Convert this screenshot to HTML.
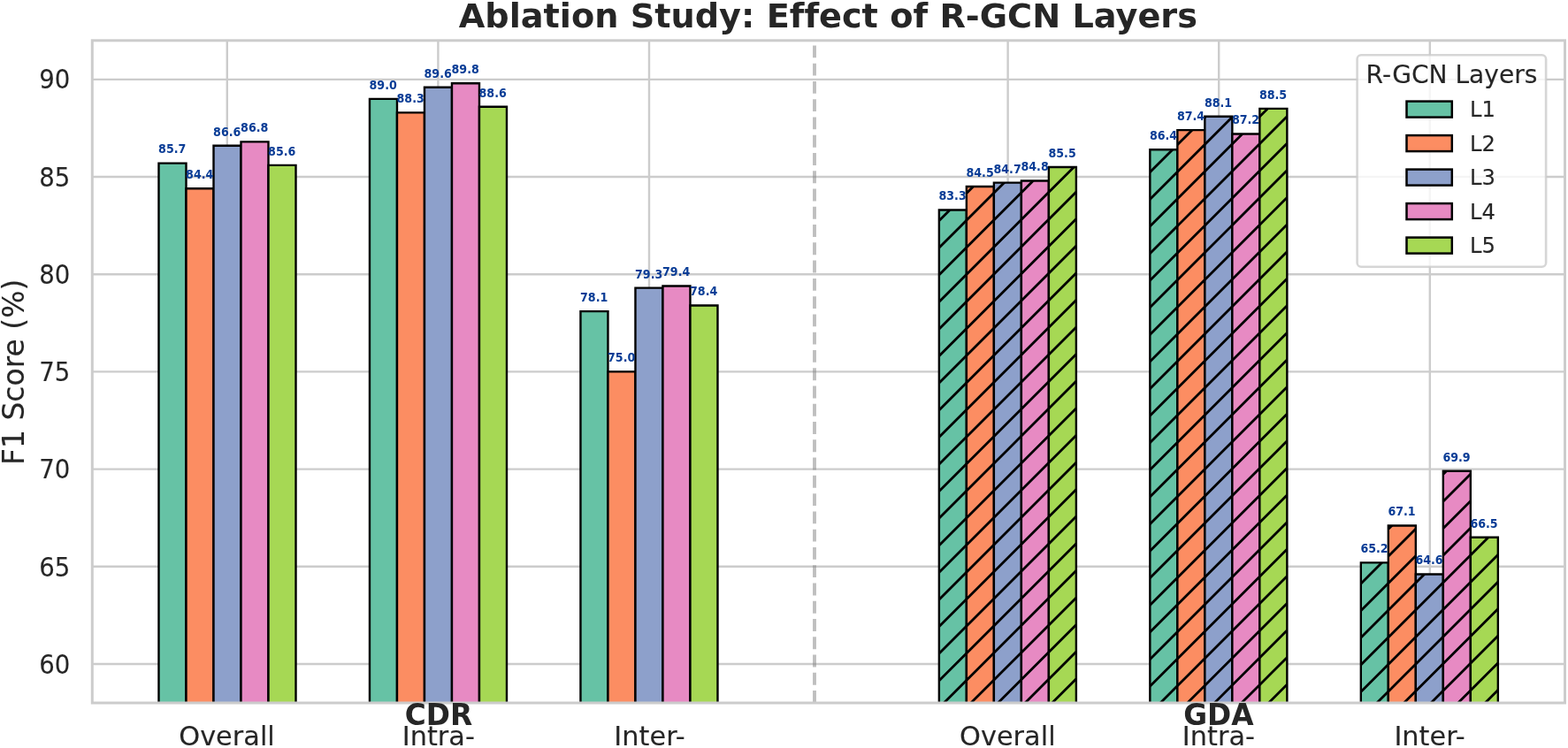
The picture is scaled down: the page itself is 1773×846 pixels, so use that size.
<!DOCTYPE html>
<html lang="en"><head><meta charset="utf-8"><title>Ablation Study: Effect of R-GCN Layers</title>
<style>html,body{margin:0;padding:0;background:#fff;overflow:hidden}svg{display:block}text{font-family:"DejaVu Sans","Liberation Sans",sans-serif;fill:#262626;font-variant-ligatures:none;font-feature-settings:"liga" 0,"clig" 0}</style></head><body>
<svg width="1773" height="846" viewBox="0 0 1773 846">
<rect width="1773" height="846" fill="#ffffff"/>
<defs><clipPath id="ax"><rect x="104.3" y="45.8" width="1665.2" height="749.2"/></clipPath></defs>
<g stroke="#cccccc" stroke-width="2.4" fill="none">
<line x1="256.8" y1="45.8" x2="256.8" y2="795"/>
<line x1="495.4" y1="45.8" x2="495.4" y2="795"/>
<line x1="734" y1="45.8" x2="734" y2="795"/>
<line x1="1139.62" y1="45.8" x2="1139.62" y2="795"/>
<line x1="1378.22" y1="45.8" x2="1378.22" y2="795"/>
<line x1="1616.82" y1="45.8" x2="1616.82" y2="795"/>
<line x1="104.3" y1="750.93" x2="1769.5" y2="750.93"/>
<line x1="104.3" y1="640.75" x2="1769.5" y2="640.75"/>
<line x1="104.3" y1="530.58" x2="1769.5" y2="530.58"/>
<line x1="104.3" y1="420.4" x2="1769.5" y2="420.4"/>
<line x1="104.3" y1="310.22" x2="1769.5" y2="310.22"/>
<line x1="104.3" y1="200.05" x2="1769.5" y2="200.05"/>
<line x1="104.3" y1="89.87" x2="1769.5" y2="89.87"/>
</g>
<g clip-path="url(#ax)">
<rect x="179.49" y="184.62" width="31" height="614.38" fill="#66c2a5"/>
<path d="M179.49 799V184.62H210.5V799" stroke="#000" stroke-width="2.4" stroke-linejoin="miter" fill="none"/>
<rect x="417.97" y="111.91" width="31" height="687.09" fill="#66c2a5"/>
<path d="M417.97 799V111.91H448.98V799" stroke="#000" stroke-width="2.4" stroke-linejoin="miter" fill="none"/>
<rect x="656.45" y="352.09" width="31" height="446.91" fill="#66c2a5"/>
<path d="M656.45 799V352.09H687.46V799" stroke="#000" stroke-width="2.4" stroke-linejoin="miter" fill="none"/>
<rect x="1061.87" y="237.51" width="31" height="561.49" fill="#66c2a5"/>
<clipPath id="c1"><rect x="1061.87" y="237.51" width="31" height="557.49"/></clipPath>
<path d="M1057.87 192.43L1096.87 153.43M1057.87 223.03L1096.87 184.03M1057.87 253.63L1096.87 214.63M1057.87 284.23L1096.87 245.23M1057.87 314.83L1096.87 275.83M1057.87 345.43L1096.87 306.43M1057.87 376.03L1096.87 337.03M1057.87 406.63L1096.87 367.63M1057.87 437.23L1096.87 398.23M1057.87 467.83L1096.87 428.83M1057.87 498.43L1096.87 459.43M1057.87 529.03L1096.87 490.03M1057.87 559.63L1096.87 520.63M1057.87 590.23L1096.87 551.23M1057.87 620.83L1096.87 581.83M1057.87 651.43L1096.87 612.43M1057.87 682.03L1096.87 643.03M1057.87 712.63L1096.87 673.63M1057.87 743.23L1096.87 704.23M1057.87 773.83L1096.87 734.83M1057.87 804.43L1096.87 765.43M1057.87 835.03L1096.87 796.03M1057.87 865.63L1096.87 826.63M1057.87 896.23L1096.87 857.23" stroke="#000" stroke-width="2.8" fill="none" clip-path="url(#c1)"/>
<path d="M1061.87 799V237.51H1092.87V799" stroke="#000" stroke-width="2.4" stroke-linejoin="miter" fill="none"/>
<rect x="1300.35" y="169.2" width="31" height="629.8" fill="#66c2a5"/>
<clipPath id="c2"><rect x="1300.35" y="169.2" width="31" height="625.8"/></clipPath>
<path d="M1296.35 137.55L1335.35 98.55M1296.35 168.15L1335.35 129.15M1296.35 198.75L1335.35 159.75M1296.35 229.35L1335.35 190.35M1296.35 259.95L1335.35 220.95M1296.35 290.55L1335.35 251.55M1296.35 321.15L1335.35 282.15M1296.35 351.75L1335.35 312.75M1296.35 382.35L1335.35 343.35M1296.35 412.95L1335.35 373.95M1296.35 443.55L1335.35 404.55M1296.35 474.15L1335.35 435.15M1296.35 504.75L1335.35 465.75M1296.35 535.35L1335.35 496.35M1296.35 565.95L1335.35 526.95M1296.35 596.55L1335.35 557.55M1296.35 627.15L1335.35 588.15M1296.35 657.75L1335.35 618.75M1296.35 688.35L1335.35 649.35M1296.35 718.95L1335.35 679.95M1296.35 749.55L1335.35 710.55M1296.35 780.15L1335.35 741.15M1296.35 810.75L1335.35 771.75M1296.35 841.35L1335.35 802.35M1296.35 871.95L1335.35 832.95" stroke="#000" stroke-width="2.8" fill="none" clip-path="url(#c2)"/>
<path d="M1300.35 799V169.2H1331.35V799" stroke="#000" stroke-width="2.4" stroke-linejoin="miter" fill="none"/>
<rect x="1538.83" y="636.35" width="31" height="162.65" fill="#66c2a5"/>
<clipPath id="c3"><rect x="1538.83" y="636.35" width="31" height="158.65"/></clipPath>
<path d="M1534.83 602.87L1573.83 563.87M1534.83 633.47L1573.83 594.47M1534.83 664.07L1573.83 625.07M1534.83 694.67L1573.83 655.67M1534.83 725.27L1573.83 686.27M1534.83 755.87L1573.83 716.87M1534.83 786.47L1573.83 747.47M1534.83 817.07L1573.83 778.07M1534.83 847.67L1573.83 808.67M1534.83 878.27L1573.83 839.27" stroke="#000" stroke-width="2.8" fill="none" clip-path="url(#c3)"/>
<path d="M1538.83 799V636.35H1569.83V799" stroke="#000" stroke-width="2.4" stroke-linejoin="miter" fill="none"/>
<rect x="210.5" y="213.27" width="31" height="585.73" fill="#fc8d62"/>
<path d="M210.5 799V213.27H241.5V799" stroke="#000" stroke-width="2.4" stroke-linejoin="miter" fill="none"/>
<rect x="448.98" y="127.33" width="31" height="671.67" fill="#fc8d62"/>
<path d="M448.98 799V127.33H479.98V799" stroke="#000" stroke-width="2.4" stroke-linejoin="miter" fill="none"/>
<rect x="687.46" y="420.4" width="31" height="378.6" fill="#fc8d62"/>
<path d="M687.46 799V420.4H718.46V799" stroke="#000" stroke-width="2.4" stroke-linejoin="miter" fill="none"/>
<rect x="1092.87" y="211.06" width="31" height="587.94" fill="#fc8d62"/>
<clipPath id="c4"><rect x="1092.87" y="211.06" width="31" height="583.94"/></clipPath>
<path d="M1088.87 161.43L1127.87 122.43M1088.87 192.03L1127.87 153.03M1088.87 222.63L1127.87 183.63M1088.87 253.23L1127.87 214.23M1088.87 283.83L1127.87 244.83M1088.87 314.43L1127.87 275.43M1088.87 345.03L1127.87 306.03M1088.87 375.63L1127.87 336.63M1088.87 406.23L1127.87 367.23M1088.87 436.83L1127.87 397.83M1088.87 467.43L1127.87 428.43M1088.87 498.03L1127.87 459.03M1088.87 528.63L1127.87 489.63M1088.87 559.23L1127.87 520.23M1088.87 589.83L1127.87 550.83M1088.87 620.43L1127.87 581.43M1088.87 651.03L1127.87 612.03M1088.87 681.63L1127.87 642.63M1088.87 712.23L1127.87 673.23M1088.87 742.83L1127.87 703.83M1088.87 773.43L1127.87 734.43M1088.87 804.03L1127.87 765.03M1088.87 834.63L1127.87 795.63M1088.87 865.23L1127.87 826.23M1088.87 895.83L1127.87 856.83" stroke="#000" stroke-width="2.8" fill="none" clip-path="url(#c4)"/>
<path d="M1092.87 799V211.06H1123.87V799" stroke="#000" stroke-width="2.4" stroke-linejoin="miter" fill="none"/>
<rect x="1331.35" y="147.16" width="31" height="651.84" fill="#fc8d62"/>
<clipPath id="c5"><rect x="1331.35" y="147.16" width="31" height="647.84"/></clipPath>
<path d="M1327.35 106.55L1366.35 67.55M1327.35 137.15L1366.35 98.15M1327.35 167.75L1366.35 128.75M1327.35 198.35L1366.35 159.35M1327.35 228.95L1366.35 189.95M1327.35 259.55L1366.35 220.55M1327.35 290.15L1366.35 251.15M1327.35 320.75L1366.35 281.75M1327.35 351.35L1366.35 312.35M1327.35 381.95L1366.35 342.95M1327.35 412.55L1366.35 373.55M1327.35 443.15L1366.35 404.15M1327.35 473.75L1366.35 434.75M1327.35 504.35L1366.35 465.35M1327.35 534.95L1366.35 495.95M1327.35 565.55L1366.35 526.55M1327.35 596.15L1366.35 557.15M1327.35 626.75L1366.35 587.75M1327.35 657.35L1366.35 618.35M1327.35 687.95L1366.35 648.95M1327.35 718.55L1366.35 679.55M1327.35 749.15L1366.35 710.15M1327.35 779.75L1366.35 740.75M1327.35 810.35L1366.35 771.35M1327.35 840.95L1366.35 801.95M1327.35 871.55L1366.35 832.55" stroke="#000" stroke-width="2.8" fill="none" clip-path="url(#c5)"/>
<path d="M1331.35 799V147.16H1362.35V799" stroke="#000" stroke-width="2.4" stroke-linejoin="miter" fill="none"/>
<rect x="1569.83" y="594.48" width="31" height="204.52" fill="#fc8d62"/>
<clipPath id="c6"><rect x="1569.83" y="594.48" width="31" height="200.52"/></clipPath>
<path d="M1565.83 541.27L1604.83 502.27M1565.83 571.87L1604.83 532.87M1565.83 602.47L1604.83 563.47M1565.83 633.07L1604.83 594.07M1565.83 663.67L1604.83 624.67M1565.83 694.27L1604.83 655.27M1565.83 724.87L1604.83 685.87M1565.83 755.47L1604.83 716.47M1565.83 786.07L1604.83 747.07M1565.83 816.67L1604.83 777.67M1565.83 847.27L1604.83 808.27M1565.83 877.87L1604.83 838.87" stroke="#000" stroke-width="2.8" fill="none" clip-path="url(#c6)"/>
<path d="M1569.83 799V594.48H1600.83V799" stroke="#000" stroke-width="2.4" stroke-linejoin="miter" fill="none"/>
<rect x="241.5" y="164.79" width="31" height="634.21" fill="#8da0cb"/>
<path d="M241.5 799V164.79H272.5V799" stroke="#000" stroke-width="2.4" stroke-linejoin="miter" fill="none"/>
<rect x="479.98" y="98.68" width="31" height="700.32" fill="#8da0cb"/>
<path d="M479.98 799V98.68H510.98V799" stroke="#000" stroke-width="2.4" stroke-linejoin="miter" fill="none"/>
<rect x="718.46" y="325.65" width="31" height="473.35" fill="#8da0cb"/>
<path d="M718.46 799V325.65H749.46V799" stroke="#000" stroke-width="2.4" stroke-linejoin="miter" fill="none"/>
<rect x="1123.87" y="206.66" width="31" height="592.34" fill="#8da0cb"/>
<clipPath id="c7"><rect x="1123.87" y="206.66" width="31" height="588.34"/></clipPath>
<path d="M1119.87 161.03L1158.88 122.02M1119.87 191.63L1158.88 152.62M1119.87 222.23L1158.88 183.22M1119.87 252.83L1158.88 213.82M1119.87 283.43L1158.88 244.42M1119.87 314.03L1158.88 275.02M1119.87 344.63L1158.88 305.62M1119.87 375.23L1158.88 336.22M1119.87 405.83L1158.88 366.82M1119.87 436.43L1158.88 397.42M1119.87 467.03L1158.88 428.02M1119.87 497.63L1158.88 458.62M1119.87 528.23L1158.88 489.22M1119.87 558.83L1158.88 519.82M1119.87 589.43L1158.88 550.42M1119.87 620.03L1158.88 581.02M1119.87 650.63L1158.88 611.62M1119.87 681.23L1158.88 642.22M1119.87 711.83L1158.88 672.82M1119.87 742.43L1158.88 703.42M1119.87 773.03L1158.88 734.02M1119.87 803.63L1158.88 764.62M1119.87 834.23L1158.88 795.22M1119.87 864.83L1158.88 825.82M1119.87 895.43L1158.88 856.42" stroke="#000" stroke-width="2.8" fill="none" clip-path="url(#c7)"/>
<path d="M1123.87 799V206.66H1154.88V799" stroke="#000" stroke-width="2.4" stroke-linejoin="miter" fill="none"/>
<rect x="1362.35" y="131.74" width="31" height="667.26" fill="#8da0cb"/>
<clipPath id="c8"><rect x="1362.35" y="131.74" width="31" height="663.26"/></clipPath>
<path d="M1358.35 106.15L1397.36 67.14M1358.35 136.75L1397.36 97.74M1358.35 167.35L1397.36 128.34M1358.35 197.95L1397.36 158.94M1358.35 228.55L1397.36 189.54M1358.35 259.15L1397.36 220.14M1358.35 289.75L1397.36 250.74M1358.35 320.35L1397.36 281.34M1358.35 350.95L1397.36 311.94M1358.35 381.55L1397.36 342.54M1358.35 412.15L1397.36 373.14M1358.35 442.75L1397.36 403.74M1358.35 473.35L1397.36 434.34M1358.35 503.95L1397.36 464.94M1358.35 534.55L1397.36 495.54M1358.35 565.15L1397.36 526.14M1358.35 595.75L1397.36 556.74M1358.35 626.35L1397.36 587.34M1358.35 656.95L1397.36 617.94M1358.35 687.55L1397.36 648.54M1358.35 718.15L1397.36 679.14M1358.35 748.75L1397.36 709.74M1358.35 779.35L1397.36 740.34M1358.35 809.95L1397.36 770.94M1358.35 840.55L1397.36 801.54M1358.35 871.15L1397.36 832.14" stroke="#000" stroke-width="2.8" fill="none" clip-path="url(#c8)"/>
<path d="M1362.35 799V131.74H1393.36V799" stroke="#000" stroke-width="2.4" stroke-linejoin="miter" fill="none"/>
<rect x="1600.83" y="649.57" width="31" height="149.43" fill="#8da0cb"/>
<clipPath id="c9"><rect x="1600.83" y="649.57" width="31" height="145.43"/></clipPath>
<path d="M1596.83 602.07L1635.84 563.06M1596.83 632.67L1635.84 593.66M1596.83 663.27L1635.84 624.26M1596.83 693.87L1635.84 654.86M1596.83 724.47L1635.84 685.46M1596.83 755.07L1635.84 716.06M1596.83 785.67L1635.84 746.66M1596.83 816.27L1635.84 777.26M1596.83 846.87L1635.84 807.86M1596.83 877.47L1635.84 838.46" stroke="#000" stroke-width="2.8" fill="none" clip-path="url(#c9)"/>
<path d="M1600.83 799V649.57H1631.84V799" stroke="#000" stroke-width="2.4" stroke-linejoin="miter" fill="none"/>
<rect x="272.5" y="160.38" width="31" height="638.62" fill="#e78ac3"/>
<path d="M272.5 799V160.38H303.5V799" stroke="#000" stroke-width="2.4" stroke-linejoin="miter" fill="none"/>
<rect x="510.98" y="94.28" width="31" height="704.72" fill="#e78ac3"/>
<path d="M510.98 799V94.28H541.98V799" stroke="#000" stroke-width="2.4" stroke-linejoin="miter" fill="none"/>
<rect x="749.46" y="323.44" width="31" height="475.56" fill="#e78ac3"/>
<path d="M749.46 799V323.44H780.46V799" stroke="#000" stroke-width="2.4" stroke-linejoin="miter" fill="none"/>
<rect x="1154.88" y="204.45" width="31" height="594.55" fill="#e78ac3"/>
<clipPath id="c10"><rect x="1154.88" y="204.45" width="31" height="590.55"/></clipPath>
<path d="M1150.88 160.62L1189.88 121.62M1150.88 191.22L1189.88 152.22M1150.88 221.82L1189.88 182.82M1150.88 252.42L1189.88 213.42M1150.88 283.02L1189.88 244.02M1150.88 313.62L1189.88 274.62M1150.88 344.22L1189.88 305.22M1150.88 374.82L1189.88 335.82M1150.88 405.42L1189.88 366.42M1150.88 436.02L1189.88 397.02M1150.88 466.62L1189.88 427.62M1150.88 497.22L1189.88 458.22M1150.88 527.82L1189.88 488.82M1150.88 558.42L1189.88 519.42M1150.88 589.02L1189.88 550.02M1150.88 619.62L1189.88 580.62M1150.88 650.22L1189.88 611.22M1150.88 680.82L1189.88 641.82M1150.88 711.42L1189.88 672.42M1150.88 742.02L1189.88 703.02M1150.88 772.62L1189.88 733.62M1150.88 803.22L1189.88 764.22M1150.88 833.82L1189.88 794.82M1150.88 864.42L1189.88 825.42M1150.88 895.02L1189.88 856.02" stroke="#000" stroke-width="2.8" fill="none" clip-path="url(#c10)"/>
<path d="M1154.88 799V204.45H1185.88V799" stroke="#000" stroke-width="2.4" stroke-linejoin="miter" fill="none"/>
<rect x="1393.36" y="151.57" width="31" height="647.43" fill="#e78ac3"/>
<clipPath id="c11"><rect x="1393.36" y="151.57" width="31" height="643.43"/></clipPath>
<path d="M1389.36 105.74L1428.36 66.74M1389.36 136.34L1428.36 97.34M1389.36 166.94L1428.36 127.94M1389.36 197.54L1428.36 158.54M1389.36 228.14L1428.36 189.14M1389.36 258.74L1428.36 219.74M1389.36 289.34L1428.36 250.34M1389.36 319.94L1428.36 280.94M1389.36 350.54L1428.36 311.54M1389.36 381.14L1428.36 342.14M1389.36 411.74L1428.36 372.74M1389.36 442.34L1428.36 403.34M1389.36 472.94L1428.36 433.94M1389.36 503.54L1428.36 464.54M1389.36 534.14L1428.36 495.14M1389.36 564.74L1428.36 525.74M1389.36 595.34L1428.36 556.34M1389.36 625.94L1428.36 586.94M1389.36 656.54L1428.36 617.54M1389.36 687.14L1428.36 648.14M1389.36 717.74L1428.36 678.74M1389.36 748.34L1428.36 709.34M1389.36 778.94L1428.36 739.94M1389.36 809.54L1428.36 770.54M1389.36 840.14L1428.36 801.14M1389.36 870.74L1428.36 831.74M1389.36 901.34L1428.36 862.34" stroke="#000" stroke-width="2.8" fill="none" clip-path="url(#c11)"/>
<path d="M1393.36 799V151.57H1424.36V799" stroke="#000" stroke-width="2.4" stroke-linejoin="miter" fill="none"/>
<rect x="1631.84" y="532.78" width="31" height="266.22" fill="#e78ac3"/>
<clipPath id="c12"><rect x="1631.84" y="532.78" width="31" height="262.22"/></clipPath>
<path d="M1627.84 479.26L1666.84 440.26M1627.84 509.86L1666.84 470.86M1627.84 540.46L1666.84 501.46M1627.84 571.06L1666.84 532.06M1627.84 601.66L1666.84 562.66M1627.84 632.26L1666.84 593.26M1627.84 662.86L1666.84 623.86M1627.84 693.46L1666.84 654.46M1627.84 724.06L1666.84 685.06M1627.84 754.66L1666.84 715.66M1627.84 785.26L1666.84 746.26M1627.84 815.86L1666.84 776.86M1627.84 846.46L1666.84 807.46M1627.84 877.06L1666.84 838.06" stroke="#000" stroke-width="2.8" fill="none" clip-path="url(#c12)"/>
<path d="M1631.84 799V532.78H1662.84V799" stroke="#000" stroke-width="2.4" stroke-linejoin="miter" fill="none"/>
<rect x="303.5" y="186.83" width="31" height="612.17" fill="#a6d854"/>
<path d="M303.5 799V186.83H334.51V799" stroke="#000" stroke-width="2.4" stroke-linejoin="miter" fill="none"/>
<rect x="541.98" y="120.72" width="31" height="678.28" fill="#a6d854"/>
<path d="M541.98 799V120.72H572.99V799" stroke="#000" stroke-width="2.4" stroke-linejoin="miter" fill="none"/>
<rect x="780.46" y="345.48" width="31" height="453.52" fill="#a6d854"/>
<path d="M780.46 799V345.48H811.47V799" stroke="#000" stroke-width="2.4" stroke-linejoin="miter" fill="none"/>
<rect x="1185.88" y="189.03" width="31" height="609.97" fill="#a6d854"/>
<clipPath id="c13"><rect x="1185.88" y="189.03" width="31" height="605.97"/></clipPath>
<path d="M1181.88 160.22L1220.88 121.22M1181.88 190.82L1220.88 151.82M1181.88 221.42L1220.88 182.42M1181.88 252.02L1220.88 213.02M1181.88 282.62L1220.88 243.62M1181.88 313.22L1220.88 274.22M1181.88 343.82L1220.88 304.82M1181.88 374.42L1220.88 335.42M1181.88 405.02L1220.88 366.02M1181.88 435.62L1220.88 396.62M1181.88 466.22L1220.88 427.22M1181.88 496.82L1220.88 457.82M1181.88 527.42L1220.88 488.42M1181.88 558.02L1220.88 519.02M1181.88 588.62L1220.88 549.62M1181.88 619.22L1220.88 580.22M1181.88 649.82L1220.88 610.82M1181.88 680.42L1220.88 641.42M1181.88 711.02L1220.88 672.02M1181.88 741.62L1220.88 702.62M1181.88 772.22L1220.88 733.22M1181.88 802.82L1220.88 763.82M1181.88 833.42L1220.88 794.42M1181.88 864.02L1220.88 825.02M1181.88 894.62L1220.88 855.62" stroke="#000" stroke-width="2.8" fill="none" clip-path="url(#c13)"/>
<path d="M1185.88 799V189.03H1216.88V799" stroke="#000" stroke-width="2.4" stroke-linejoin="miter" fill="none"/>
<rect x="1424.36" y="122.92" width="31" height="676.08" fill="#a6d854"/>
<clipPath id="c14"><rect x="1424.36" y="122.92" width="31" height="672.08"/></clipPath>
<path d="M1420.36 74.74L1459.36 35.74M1420.36 105.34L1459.36 66.34M1420.36 135.94L1459.36 96.94M1420.36 166.54L1459.36 127.54M1420.36 197.14L1459.36 158.14M1420.36 227.74L1459.36 188.74M1420.36 258.34L1459.36 219.34M1420.36 288.94L1459.36 249.94M1420.36 319.54L1459.36 280.54M1420.36 350.14L1459.36 311.14M1420.36 380.74L1459.36 341.74M1420.36 411.34L1459.36 372.34M1420.36 441.94L1459.36 402.94M1420.36 472.54L1459.36 433.54M1420.36 503.14L1459.36 464.14M1420.36 533.74L1459.36 494.74M1420.36 564.34L1459.36 525.34M1420.36 594.94L1459.36 555.94M1420.36 625.54L1459.36 586.54M1420.36 656.14L1459.36 617.14M1420.36 686.74L1459.36 647.74M1420.36 717.34L1459.36 678.34M1420.36 747.94L1459.36 708.94M1420.36 778.54L1459.36 739.54M1420.36 809.14L1459.36 770.14M1420.36 839.74L1459.36 800.74M1420.36 870.34L1459.36 831.34M1420.36 900.94L1459.36 861.94" stroke="#000" stroke-width="2.8" fill="none" clip-path="url(#c14)"/>
<path d="M1424.36 799V122.92H1455.36V799" stroke="#000" stroke-width="2.4" stroke-linejoin="miter" fill="none"/>
<rect x="1662.84" y="607.7" width="31" height="191.3" fill="#a6d854"/>
<clipPath id="c15"><rect x="1662.84" y="607.7" width="31" height="187.3"/></clipPath>
<path d="M1658.84 570.66L1697.84 531.66M1658.84 601.26L1697.84 562.26M1658.84 631.86L1697.84 592.86M1658.84 662.46L1697.84 623.46M1658.84 693.06L1697.84 654.06M1658.84 723.66L1697.84 684.66M1658.84 754.26L1697.84 715.26M1658.84 784.86L1697.84 745.86M1658.84 815.46L1697.84 776.46M1658.84 846.06L1697.84 807.06M1658.84 876.66L1697.84 837.66" stroke="#000" stroke-width="2.8" fill="none" clip-path="url(#c15)"/>
<path d="M1662.84 799V607.7H1693.84V799" stroke="#000" stroke-width="2.4" stroke-linejoin="miter" fill="none"/>
</g>
<line x1="921" y1="795" x2="921" y2="45.8" stroke="#808080" stroke-opacity="0.5" stroke-width="3.9" stroke-dasharray="13.9 6.37"/>
<rect x="104.3" y="45.8" width="1665.2" height="749.2" fill="none" stroke="#cccccc" stroke-width="3.0"/>
<text transform="translate(79.3,761.88) scale(0.935,1)" text-anchor="end" style="font-size:29.5px;stroke:#262626;stroke-width:0.12px">60</text>
<text transform="translate(79.3,651.61) scale(0.935,1)" text-anchor="end" style="font-size:29.5px;stroke:#262626;stroke-width:0.12px">65</text>
<text transform="translate(79.3,541.34) scale(0.935,1)" text-anchor="end" style="font-size:29.5px;stroke:#262626;stroke-width:0.12px">70</text>
<text transform="translate(79.3,431.07) scale(0.935,1)" text-anchor="end" style="font-size:29.5px;stroke:#262626;stroke-width:0.12px">75</text>
<text transform="translate(79.3,320.81) scale(0.935,1)" text-anchor="end" style="font-size:29.5px;stroke:#262626;stroke-width:0.12px">80</text>
<text transform="translate(79.3,210.54) scale(0.935,1)" text-anchor="end" style="font-size:29.5px;stroke:#262626;stroke-width:0.12px">85</text>
<text transform="translate(79.3,100.27) scale(0.935,1)" text-anchor="end" style="font-size:29.5px;stroke:#262626;stroke-width:0.12px">90</text>
<text transform="translate(256.5,843) scale(1.012,1)" text-anchor="middle" style="font-size:30px;stroke:#262626;stroke-width:0.12px">Overall</text>
<text transform="translate(495.8,843) scale(1.012,1)" text-anchor="middle" style="font-size:30px;stroke:#262626;stroke-width:0.12px">Intra-</text>
<text transform="translate(734.5,843) scale(1.012,1)" text-anchor="middle" style="font-size:30px;stroke:#262626;stroke-width:0.12px">Inter-</text>
<text transform="translate(1139.32,843) scale(1.012,1)" text-anchor="middle" style="font-size:30px;stroke:#262626;stroke-width:0.12px">Overall</text>
<text transform="translate(1377.92,843) scale(1.012,1)" text-anchor="middle" style="font-size:30px;stroke:#262626;stroke-width:0.12px">Intra-</text>
<text transform="translate(1616.52,843) scale(1.012,1)" text-anchor="middle" style="font-size:30px;stroke:#262626;stroke-width:0.12px">Inter-</text>
<text transform="translate(26.7,420.8) rotate(-90)" text-anchor="middle" style="font-size:33px;stroke:#262626;stroke-width:0.12px">F1 Score (%)</text>
<text transform="translate(936.3,30.5) scale(1.004,1)" text-anchor="middle" style="font-size:38.1px;font-weight:bold">Ablation Study: Effect of R-GCN Layers</text>
<text transform="translate(495.9,820) scale(0.99,1)" text-anchor="middle" style="font-size:33.1px;font-weight:bold">CDR</text>
<text transform="translate(1377.92,820) scale(0.99,1)" text-anchor="middle" style="font-size:33.1px;font-weight:bold">GDA</text>
<text transform="translate(194.7,173.47) scale(0.947,1)" text-anchor="middle" style="font-size:13.4px;font-weight:bold;fill:#0a3d96">85.7</text>
<text transform="translate(433.18,100.76) scale(0.947,1)" text-anchor="middle" style="font-size:13.4px;font-weight:bold;fill:#0a3d96">89.0</text>
<text transform="translate(671.66,340.94) scale(0.947,1)" text-anchor="middle" style="font-size:13.4px;font-weight:bold;fill:#0a3d96">78.1</text>
<text transform="translate(1077.07,226.36) scale(0.947,1)" text-anchor="middle" style="font-size:13.4px;font-weight:bold;fill:#0a3d96">83.3</text>
<text transform="translate(1315.55,158.05) scale(0.947,1)" text-anchor="middle" style="font-size:13.4px;font-weight:bold;fill:#0a3d96">86.4</text>
<text transform="translate(1554.03,625.2) scale(0.947,1)" text-anchor="middle" style="font-size:13.4px;font-weight:bold;fill:#0a3d96">65.2</text>
<text transform="translate(225.7,202.12) scale(0.947,1)" text-anchor="middle" style="font-size:13.4px;font-weight:bold;fill:#0a3d96">84.4</text>
<text transform="translate(464.18,116.18) scale(0.947,1)" text-anchor="middle" style="font-size:13.4px;font-weight:bold;fill:#0a3d96">88.3</text>
<text transform="translate(702.66,409.25) scale(0.947,1)" text-anchor="middle" style="font-size:13.4px;font-weight:bold;fill:#0a3d96">75.0</text>
<text transform="translate(1108.07,199.91) scale(0.947,1)" text-anchor="middle" style="font-size:13.4px;font-weight:bold;fill:#0a3d96">84.5</text>
<text transform="translate(1346.55,136.01) scale(0.947,1)" text-anchor="middle" style="font-size:13.4px;font-weight:bold;fill:#0a3d96">87.4</text>
<text transform="translate(1585.03,583.33) scale(0.947,1)" text-anchor="middle" style="font-size:13.4px;font-weight:bold;fill:#0a3d96">67.1</text>
<text transform="translate(256.7,153.64) scale(0.947,1)" text-anchor="middle" style="font-size:13.4px;font-weight:bold;fill:#0a3d96">86.6</text>
<text transform="translate(495.18,87.53) scale(0.947,1)" text-anchor="middle" style="font-size:13.4px;font-weight:bold;fill:#0a3d96">89.6</text>
<text transform="translate(733.66,314.5) scale(0.947,1)" text-anchor="middle" style="font-size:13.4px;font-weight:bold;fill:#0a3d96">79.3</text>
<text transform="translate(1139.08,195.51) scale(0.947,1)" text-anchor="middle" style="font-size:13.4px;font-weight:bold;fill:#0a3d96">84.7</text>
<text transform="translate(1377.56,120.59) scale(0.947,1)" text-anchor="middle" style="font-size:13.4px;font-weight:bold;fill:#0a3d96">88.1</text>
<text transform="translate(1616.04,638.42) scale(0.947,1)" text-anchor="middle" style="font-size:13.4px;font-weight:bold;fill:#0a3d96">64.6</text>
<text transform="translate(287.7,149.23) scale(0.947,1)" text-anchor="middle" style="font-size:13.4px;font-weight:bold;fill:#0a3d96">86.8</text>
<text transform="translate(526.18,83.13) scale(0.947,1)" text-anchor="middle" style="font-size:13.4px;font-weight:bold;fill:#0a3d96">89.8</text>
<text transform="translate(764.66,312.29) scale(0.947,1)" text-anchor="middle" style="font-size:13.4px;font-weight:bold;fill:#0a3d96">79.4</text>
<text transform="translate(1170.08,193.3) scale(0.947,1)" text-anchor="middle" style="font-size:13.4px;font-weight:bold;fill:#0a3d96">84.8</text>
<text transform="translate(1408.56,140.42) scale(0.947,1)" text-anchor="middle" style="font-size:13.4px;font-weight:bold;fill:#0a3d96">87.2</text>
<text transform="translate(1647.04,521.63) scale(0.947,1)" text-anchor="middle" style="font-size:13.4px;font-weight:bold;fill:#0a3d96">69.9</text>
<text transform="translate(318.7,175.68) scale(0.947,1)" text-anchor="middle" style="font-size:13.4px;font-weight:bold;fill:#0a3d96">85.6</text>
<text transform="translate(557.18,109.57) scale(0.947,1)" text-anchor="middle" style="font-size:13.4px;font-weight:bold;fill:#0a3d96">88.6</text>
<text transform="translate(795.66,334.33) scale(0.947,1)" text-anchor="middle" style="font-size:13.4px;font-weight:bold;fill:#0a3d96">78.4</text>
<text transform="translate(1201.08,177.88) scale(0.947,1)" text-anchor="middle" style="font-size:13.4px;font-weight:bold;fill:#0a3d96">85.5</text>
<text transform="translate(1439.56,111.77) scale(0.947,1)" text-anchor="middle" style="font-size:13.4px;font-weight:bold;fill:#0a3d96">88.5</text>
<text transform="translate(1678.04,596.55) scale(0.947,1)" text-anchor="middle" style="font-size:13.4px;font-weight:bold;fill:#0a3d96">66.5</text>
<rect x="1534.6" y="62.3" width="213.5" height="239.4" rx="4.5" ry="4.5" fill="#ffffff" fill-opacity="0.8" stroke="#cccccc" stroke-opacity="0.8" stroke-width="2.6"/>
<text transform="translate(1641.5,93.9) scale(0.993,1)" text-anchor="middle" style="font-size:28.3px;stroke:#262626;stroke-width:0.12px">R-GCN Layers</text>
<rect x="1590.5" y="114.6" width="51.3" height="18" fill="#66c2a5" stroke="#000" stroke-width="2.5"/>
<text transform="translate(1662,132.2) scale(0.97,1)" style="font-size:25px;stroke:#262626;stroke-width:0.12px">L1</text>
<rect x="1590.5" y="153.1" width="51.3" height="18" fill="#fc8d62" stroke="#000" stroke-width="2.5"/>
<text transform="translate(1662,170.7) scale(0.97,1)" style="font-size:25px;stroke:#262626;stroke-width:0.12px">L2</text>
<rect x="1590.5" y="191.6" width="51.3" height="18" fill="#8da0cb" stroke="#000" stroke-width="2.5"/>
<text transform="translate(1662,209.2) scale(0.97,1)" style="font-size:25px;stroke:#262626;stroke-width:0.12px">L3</text>
<rect x="1590.5" y="230.1" width="51.3" height="18" fill="#e78ac3" stroke="#000" stroke-width="2.5"/>
<text transform="translate(1662,247.7) scale(0.97,1)" style="font-size:25px;stroke:#262626;stroke-width:0.12px">L4</text>
<rect x="1590.5" y="268.6" width="51.3" height="18" fill="#a6d854" stroke="#000" stroke-width="2.5"/>
<text transform="translate(1662,286.2) scale(0.97,1)" style="font-size:25px;stroke:#262626;stroke-width:0.12px">L5</text>
</svg></body></html>
